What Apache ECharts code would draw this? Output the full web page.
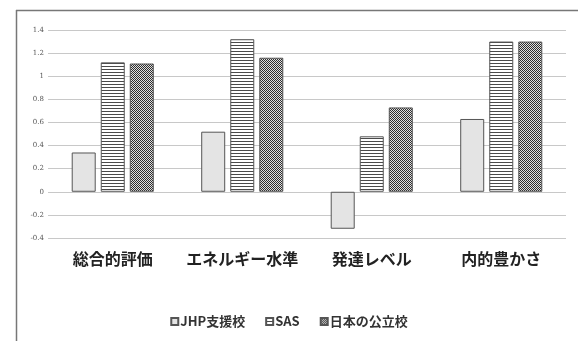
<!DOCTYPE html>
<html>
<head>
<meta charset="utf-8">
<script src="https://cdn.jsdelivr.net/npm/echarts@6/dist/echarts.min.js"></script>
<style>
  html, body { margin: 0; padding: 0; background: #fff; }
  #chart { width: 578px; height: 341px; }
</style>
</head>
<body>
<div id="chart"></div>
<script>
const categories = ['総合的評価', 'エネルギー水準', '発達レベル', '内的豊かさ']
const seriesNames = ['JHP支援校', 'SAS', '日本の公立校']
const jhpValues = [0.34, 0.52, -0.32, 0.63]
const sasValues = [1.12, 1.32, 0.48, 1.30]
const publicValues = [1.11, 1.16, 0.73, 1.30]

// small tile canvases used as bar fills
function makeTile(w, h, draw) {
  const c = document.createElement('canvas')
  c.width = w
  c.height = h
  const ctx = c.getContext('2d')
  draw(ctx)
  return c
}

const stripeTile = makeTile(4, 3, (ctx) => {
  ctx.fillStyle = '#ffffff'
  ctx.fillRect(0, 0, 4, 3)
  ctx.fillStyle = '#4a4a4a'
  ctx.fillRect(0, 0, 4, 1)
})

const checkTile = makeTile(2, 2, (ctx) => {
  ctx.fillStyle = '#e0e0e0'
  ctx.fillRect(0, 0, 2, 2)
  ctx.fillStyle = '#2e2e2e'
  ctx.fillRect(0, 0, 1, 1)
  ctx.fillRect(1, 1, 1, 1)
})

const fills = [
  '#e4e4e4',
  { image: stripeTile, repeat: 'repeat' },
  { image: checkTile, repeat: 'repeat' },
]
const valueSets = [jhpValues, sasValues, publicValues]

const chart = echarts.init(document.getElementById('chart'))

const option = {
  animation: false,
  backgroundColor: '#ffffff',
  grid: { left: 48, right: 12, top: 30, bottom: 103 },
  legend: {
    bottom: 8,
    left: 'center',
    itemWidth: 7,
    itemHeight: 7,
    itemGap: 20,
    icon: 'rect',
    textStyle: {
      fontFamily: 'Noto Sans CJK JP',
      fontSize: 13,
      fontWeight: 'bold',
      color: '#333',
      padding: [0, 0, 0, -3],
    },
    data: seriesNames,
  },
  xAxis: {
    type: 'category',
    data: categories,
    axisLine: { show: false },
    axisTick: { show: false },
    axisLabel: {
      interval: 0,
      margin: 13,
      fontFamily: 'Noto Sans CJK JP',
      fontSize: 16,
      fontWeight: 'bold',
      color: '#222',
    },
  },
  yAxis: {
    type: 'value',
    min: -0.4,
    max: 1.4,
    interval: 0.2,
    axisLine: { show: false },
    axisTick: { show: false },
    axisLabel: {
      margin: 4,
      fontFamily: 'DejaVu Serif',
      fontSize: 7,
      color: '#555',
    },
    splitLine: { lineStyle: { color: '#c8c8c8', width: 1 } },
  },
  series: seriesNames.map((name, i) => ({
    name,
    type: 'bar',
    barWidth: 24,
    barGap: '21%',
    data: valueSets[i],
    itemStyle: {
      color: fills[i],
      borderColor: '#555',
      borderWidth: 1,
    },
  })),
  graphic: [
    {
      type: 'line',
      shape: { x1: 16.5, y1: 10, x2: 16.5, y2: 341 },
      style: { stroke: '#777', lineWidth: 1.5 },
    },
    {
      type: 'line',
      shape: { x1: 16, y1: 10.5, x2: 578, y2: 10.5 },
      style: { stroke: '#777', lineWidth: 1.5 },
    },
  ],
}

chart.setOption(option)
</script>
</body>
</html>
